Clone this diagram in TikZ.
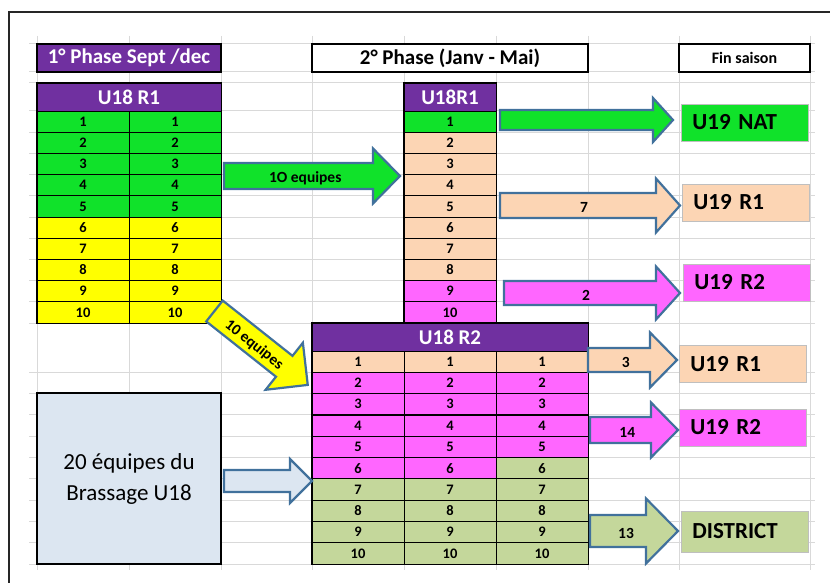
\documentclass[tikz,border=0pt]{standalone}
\usepackage{fontspec}
\setmainfont{Carlito}
\usepackage{tikz}

\definecolor{pviolet}{RGB}{112,48,160}
\definecolor{pvert}{RGB}{16,226,42}
\definecolor{pjaune}{RGB}{255,255,0}
\definecolor{ppeche}{RGB}{252,213,180}
\definecolor{prose}{RGB}{255,102,255}
\definecolor{polive}{RGB}{196,215,155}
\definecolor{pbleu}{RGB}{220,230,241}
\definecolor{pcontour}{RGB}{65,113,156}
\definecolor{pgrille}{RGB}{217,217,217}

% #1 name, #2 fill, #3 tail, #4 angle, #5 length, #6 shaft half width, #7 head half width, #8 head length, #9 text
\newcommand{\fleche}[9]{%
  \begin{scope}[shift={#3},rotate=#4]
    \filldraw[bloc,fill=#2] (0,-#6) -- ({#5-#8},-#6) -- ({#5-#8},-#7) -- (#5,0)
      -- ({#5-#8},#7) -- ({#5-#8},#6) -- (0,#6) -- cycle;
    \node[texte fleche,transform shape] (#1) at ({(#5-#8/2)/2},0) {#9};
  \end{scope}}

\begin{document}
\begin{tikzpicture}[x=1pt,y=-1pt,
    grille/.style={pgrille,line width=1pt},
    case/.style={draw=black,line width=0.8pt,minimum width=92pt,minimum height=21.2pt,inner sep=0pt,
      font=\bfseries\fontsize{14.5}{16}\selectfont},
    entete/.style={draw=black,line width=0.8pt,fill=pviolet,text=white,minimum height=28pt,inner sep=0pt,
      font=\bfseries\fontsize{21}{24}\selectfont},
    titre/.style={draw=black,line width=1.6pt,minimum height=28pt,inner sep=0pt,
      font=\bfseries\fontsize{21}{24}\selectfont},
    cadre/.style={draw=black,line width=1.6pt},
    sortie/.style={draw=black!25,line width=0.8pt,anchor=west,inner xsep=11pt,inner ysep=0pt,text width=105pt,
      align=left,minimum height=37pt,font=\bfseries\fontsize{23}{26}\selectfont},
    bloc/.style={draw=pcontour,line width=2.2pt},
    texte fleche/.style={inner sep=0pt,yshift=-2pt,font=\bfseries\fontsize{15.5}{17}\selectfont}]
  \useasboundingbox (0,0) rectangle (830,583);
  \draw[line width=1.5pt,black!85] (9,583) -- (9,12) -- (830,12);
  \foreach \x in {37,129,221,312,404,496,588,679,810} \draw[grille] (\x,36) -- (\x,570);
  \foreach \y in {44,72,83} \draw[grille] (29,\y) -- (815,\y);
  \foreach \i in {0,...,10} \draw[grille] (29,{111+\i*21.2}) -- (815,{111+\i*21.2});
  \foreach \i in {1,...,10} \draw[grille] (29,{351+\i*21.3}) -- (815,{351+\i*21.3});

  \node[titre,fill=pviolet,text=white,minimum width=184pt] (p1) at (129,58) {1° Phase Sept /dec};
  \node[titre,fill=white,minimum width=276pt] (p2) at (450,58) {2° Phase (Janv - Mai)};
  \node[titre,fill=white,minimum width=131pt,font=\bfseries\fontsize{16}{18}\selectfont] (p3) at (744.5,58) {Fin saison};

  \node[entete,minimum width=184pt] (t1) at (129,97) {U18 R1};
  \foreach \i/\c in {1/pvert,2/pvert,3/pvert,4/pvert,5/pvert,6/pjaune,7/pjaune,8/pjaune,9/pjaune,10/pjaune} {
    \node[case,fill=\c] (ga\i) at (83,{100.4+\i*21.2}) {\i};
    \node[case,fill=\c] (gb\i) at (175,{100.4+\i*21.2}) {\i};
  }
  \draw[cadre] (t1.north west) rectangle (gb10.south east);

  \node[entete,minimum width=92pt] (t2) at (450,97) {U18R1};
  \foreach \i/\c in {1/pvert,2/ppeche,3/ppeche,4/ppeche,5/ppeche,6/ppeche,7/ppeche,8/ppeche,9/prose,10/prose}
    \node[case,fill=\c] (m\i) at (450,{100.4+\i*21.2}) {\i};
  \draw[cadre] (t2.north west) rectangle (m10.south east);

  \node[entete,minimum width=276pt] (t3) at (450,337) {U18 R2};
  \foreach \i/\c/\d in {1/ppeche/ppeche,2/prose/prose,3/prose/prose,4/prose/prose,5/prose/prose,
      6/prose/polive,7/polive/polive,8/polive/polive,9/polive/polive,10/polive/polive} {
    \node[case,fill=\c] (ba\i) at (358,{340.35+\i*21.3}) {\i};
    \node[case,fill=\c] (bb\i) at (450,{340.35+\i*21.3}) {\i};
    \node[case,fill=\d] (bc\i) at (542,{340.35+\i*21.3}) {\i};
  }
  \draw[cadre] (t3.north west) rectangle (bc10.south east);

  \node[cadre,fill=pbleu,minimum width=184pt,minimum height=171pt,align=center,
    font=\fontsize{23}{31}\selectfont] (br) at (129,478.5) {20 équipes du\\Brassage U18};

  \node[sortie,fill=pvert] (nat) at (681,122.5) {U19 NAT};
  \node[sortie,fill=ppeche] (ra) at (682,202.5) {U19 R1};
  \node[sortie,fill=prose] (rb) at (683,282.5) {U19 R2};
  \node[sortie,fill=ppeche] (rc) at (679,364) {U19 R1};
  \node[sortie,fill=prose] (rd) at (679,427.5) {U19 R2};
  \node[sortie,fill=polive,minimum height=41pt] (di) at (681,531.5) {DISTRICT};

  \fleche{f1}{pvert}{(224,176)}{0}{176}{13}{27.5}{27}{1O equipes}
  \fleche{f2}{pvert}{(500,120)}{0}{173}{10}{22}{20}{}
  \fleche{f3}{ppeche}{(500,205.5)}{0}{180}{12.5}{27}{24}{7}
  \fleche{f4}{prose}{(504,293)}{0}{176}{12}{26.5}{24}{2}
  \fleche{f5}{pjaune}{(214.5,311)}{-38.4}{119}{13.3}{30}{30}{10 equipes}
  \fleche{f6}{pbleu}{(224,481)}{0}{88}{11}{22}{22}{}
  \fleche{f7}{ppeche}{(588,360)}{0}{89}{12}{27.5}{27}{3}
  \fleche{f8}{prose}{(590,430)}{0}{88}{13}{27.5}{27}{14}
  \fleche{f9}{polive}{(590,531)}{0}{88}{16}{32.5}{32}{13}
\end{tikzpicture}
\end{document}
